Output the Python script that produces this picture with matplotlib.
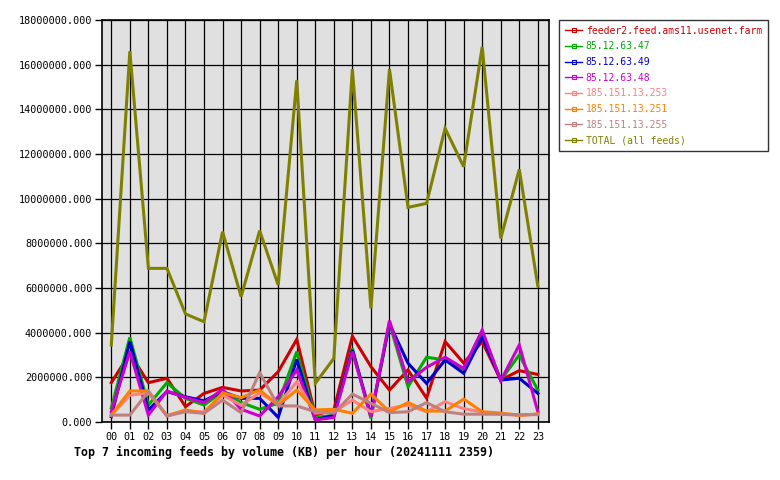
import matplotlib
matplotlib.use("Agg")
import matplotlib.pyplot as plt
from matplotlib.lines import Line2D

hours = ["%02d" % h for h in range(24)]

feeds = [
    "feeder2.feed.ams11.usenet.farm",
    "85.12.63.47",
    "85.12.63.49",
    "85.12.63.48",
    "185.151.13.253",
    "185.151.13.251",
    "185.151.13.255",
    "TOTAL (all feeds)",
]
colors = ["#cc0000", "#00aa00", "#0000cc", "#cc00cc",
          "#ff8080", "#ff8000", "#c08080", "#808000"]

# values in KB
feeder2 = [1760000, 3070000, 1760000, 1960000, 690000, 1280000, 1550000, 1390000,
           1430000, 2250000, 3700000, 310000, 540000, 3840000, 2480000, 1430000,
           2330000, 1070000, 3600000, 2640000, 3600000, 1880000, 2300000, 2130000]
ip_47 = [630000, 3790000, 760000, 1760000, 1060000, 760000, 1360000, 870000,
         570000, 840000, 3150000, 200000, 300000, 3300000, 160000, 4420000,
         1580000, 2900000, 2780000, 2360000, 3970000, 1880000, 3000000, 1430000]
ip_49 = [240000, 3600000, 540000, 1360000, 1130000, 950000, 1360000, 1060000,
         1060000, 210000, 2800000, 100000, 300000, 3220000, 300000, 4400000,
         2630000, 1730000, 2780000, 2180000, 3820000, 1880000, 1960000, 1280000]
ip_48 = [460000, 3150000, 310000, 1390000, 1100000, 870000, 1460000, 570000,
         270000, 1130000, 2330000, 100000, 200000, 3150000, 240000, 4540000,
         1800000, 2450000, 2900000, 2400000, 4120000, 1850000, 3450000, 460000]
ip_253 = [300000, 1200000, 1300000, 300000, 500000, 450000, 1200000, 750000,
          1300000, 800000, 1800000, 400000, 450000, 980000, 460000, 610000,
          760000, 460000, 910000, 600000, 450000, 350000, 300000, 350000]
ip_251 = [310000, 1390000, 1390000, 270000, 540000, 390000, 1310000, 1090000,
          1430000, 760000, 1430000, 540000, 570000, 390000, 1250000, 460000,
          870000, 490000, 490000, 1030000, 460000, 400000, 300000, 360000]
ip_255 = [310000, 310000, 1360000, 270000, 460000, 390000, 980000, 420000,
          2210000, 720000, 720000, 460000, 400000, 1250000, 840000, 420000,
          460000, 870000, 460000, 350000, 350000, 350000, 330000, 330000]
total = [3450000, 16600000, 6880000, 6880000, 4840000, 4490000, 8520000, 5610000,
         8570000, 6130000, 15300000, 1730000, 2850000, 15800000, 5090000, 15800000,
         9610000, 9790000, 13150000, 11430000, 16800000, 8220000, 11310000, 6090000]

series = [feeder2, ip_47, ip_49, ip_48, ip_253, ip_251, ip_255, total]

plt.rcParams["font.family"] = ["DejaVu Sans Mono"]

fig = plt.figure(figsize=(7.8, 4.8), dpi=100)
ax = fig.add_axes([0.1308, 0.1208, 0.5730, 0.8375])
ax.set_facecolor("#e0e0e0")

x = list(range(len(hours)))
for vals, col in zip(series, colors):
    ax.plot(x, vals, color=col, linewidth=2.2, solid_joinstyle="miter", zorder=3)

ax.set_xlim(-0.5, 23.6)
ax.set_ylim(0, 18000000)
ax.set_xticks(x)
ax.set_xticklabels(hours)
yt = list(range(0, 18000001, 2000000))
ax.set_yticks(yt)
ax.set_yticklabels(["%.3f" % v for v in yt])
ax.grid(True, color="black", linewidth=0.9, zorder=1)
ax.set_axisbelow(True)
ax.tick_params(direction="out", length=5, width=1, labelsize=7.3, pad=2)
for sp in ax.spines.values():
    sp.set_linewidth(1.2)

fig.text(74 / 780, 1 - 452 / 480, "Top 7 incoming feeds by volume (KB) per hour (20241111 2359)",
         fontsize=8.4, fontweight="bold", va="center", ha="left")

handles = [Line2D([0], [0], color=c, linewidth=1, marker="s", markersize=3,
                  markerfacecolor="none", markeredgewidth=0.8) for c in colors]
leg = fig.legend(handles, feeds, loc="upper left",
                 bbox_to_anchor=(559 / 780, 1 - 20 / 480),
                 fontsize=7.0, frameon=True, fancybox=False, edgecolor="black",
                 handlelength=1.8, handletextpad=0.35, labelspacing=0.58,
                 borderpad=0.6, borderaxespad=0)
leg.get_frame().set_linewidth(1.0)
for t, c in zip(leg.get_texts(), colors):
    t.set_color(c)

fig.savefig("out.png", dpi=100)
